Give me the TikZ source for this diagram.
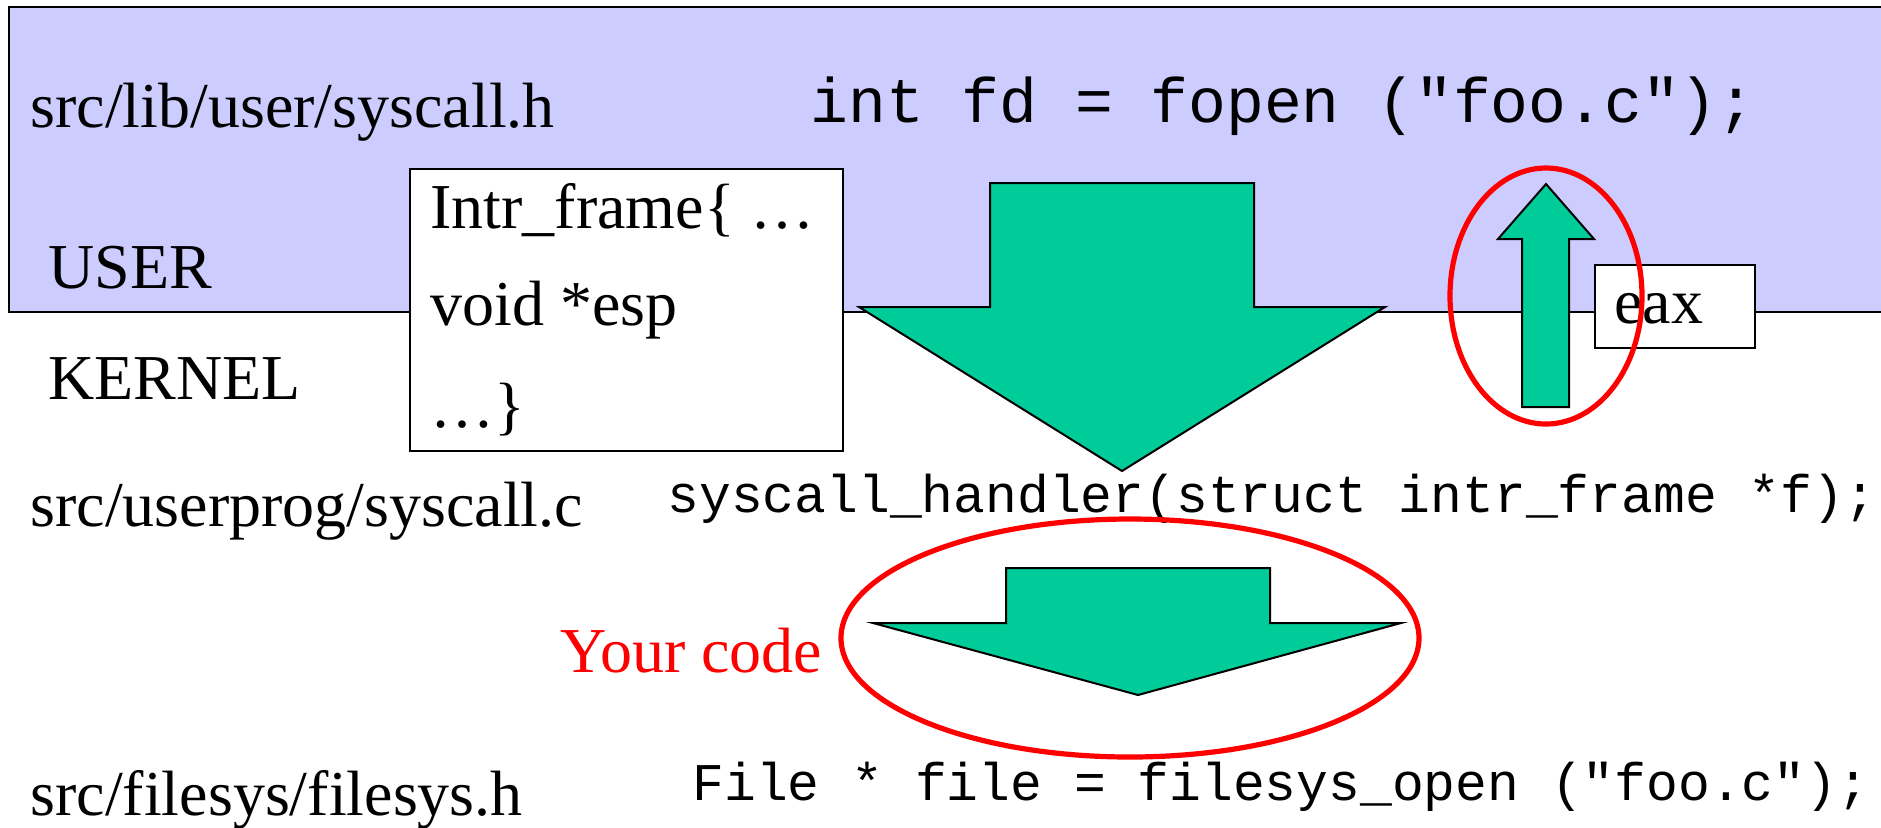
\documentclass[tikz,border=0pt]{standalone}
\usepackage{fontspec}
\setmainfont{Liberation Serif}
\setmonofont{Liberation Mono}
\definecolor{userblue}{HTML}{CCCCFF}
\definecolor{flowgreen}{HTML}{00CC99}
\definecolor{ringred}{HTML}{FF0000}
\begin{document}
\begin{tikzpicture}[x=0.5pt,y=-0.5pt,
  label/.style={anchor=base west, inner sep=0, font=\fontsize{32}{38}\selectfont},
  bigcode/.style={anchor=base west, inner sep=0, font=\ttfamily\fontsize{31.5}{36}\selectfont},
  smallcode/.style={anchor=base west, inner sep=0, font=\ttfamily\fontsize{26.5}{31}\selectfont},
  flowarrow/.style={fill=flowgreen, draw=black, line width=1pt, line join=miter},
  ring/.style={draw=ringred, line width=2.6pt},
  framebox/.style={draw=black, fill=white, line width=1pt, inner sep=0, anchor=north west}]
\useasboundingbox (0,0) rectangle (1881,827);
\clip (0,0) rectangle (1881,827);

% user space band
\filldraw[fill=userblue, draw=black, line width=1pt] (9,7) rectangle (1900,312);

% labels on the left
\node[label] (hdr) at (30,127) {src/lib/user/syscall.h};
\node[label] (user) at (48,288) {USER};
\node[label] (kernel) at (48,399) {KERNEL};
\node[label] (sysc) at (30,526) {src/userprog/syscall.c};
\node[label] (fsh) at (30,815) {src/filesys/filesys.h};

% code lines
\node[bigcode] (fopen) at (810,122) {int fd = fopen ("foo.c");};
\node[smallcode] (handler) at (667,512) {syscall\_handler(struct intr\_frame *f);};
\node[smallcode] (fsopen) at (692,800) {File * file = filesys\_open ("foo.c");};

% interrupt frame box
\node[framebox, minimum width=216.5pt, minimum height=141pt] (frame) at (409,168) {};
\node[label] (frameA) at (430,228) {Intr\_frame\{ …};
\node[label] (frameB) at (430,325) {void *esp};
\node[label] (frameC) at (430,427) {…\}};

% system call entry arrow
\filldraw[flowarrow] (990,183) -- (1254,183) -- (1254,307) -- (1385,307)
  -- (1122,471) -- (859,307) -- (990,307) -- cycle;

% return value arrow
\filldraw[flowarrow] (1546,184) -- (1594,239) -- (1569,239) -- (1569,407)
  -- (1522,407) -- (1522,239) -- (1498,239) -- cycle;
\node[framebox, minimum width=80pt, minimum height=41.5pt] (eaxbox) at (1594,264) {};
\node[label] (eax) at (1614,323) {eax};
\draw[ring] (1546,296) ellipse [x radius=96, y radius=128];

% dispatch arrow inside the handler
\filldraw[flowarrow] (1006,568) -- (1270,568) -- (1270,623) -- (1401,623)
  -- (1138,695) -- (873,623) -- (1006,623) -- cycle;
\draw[ring] (1130,638) ellipse [x radius=289, y radius=119];
\node[label, text=ringred] (yours) at (560,672) {Your code};
\end{tikzpicture}
\end{document}
